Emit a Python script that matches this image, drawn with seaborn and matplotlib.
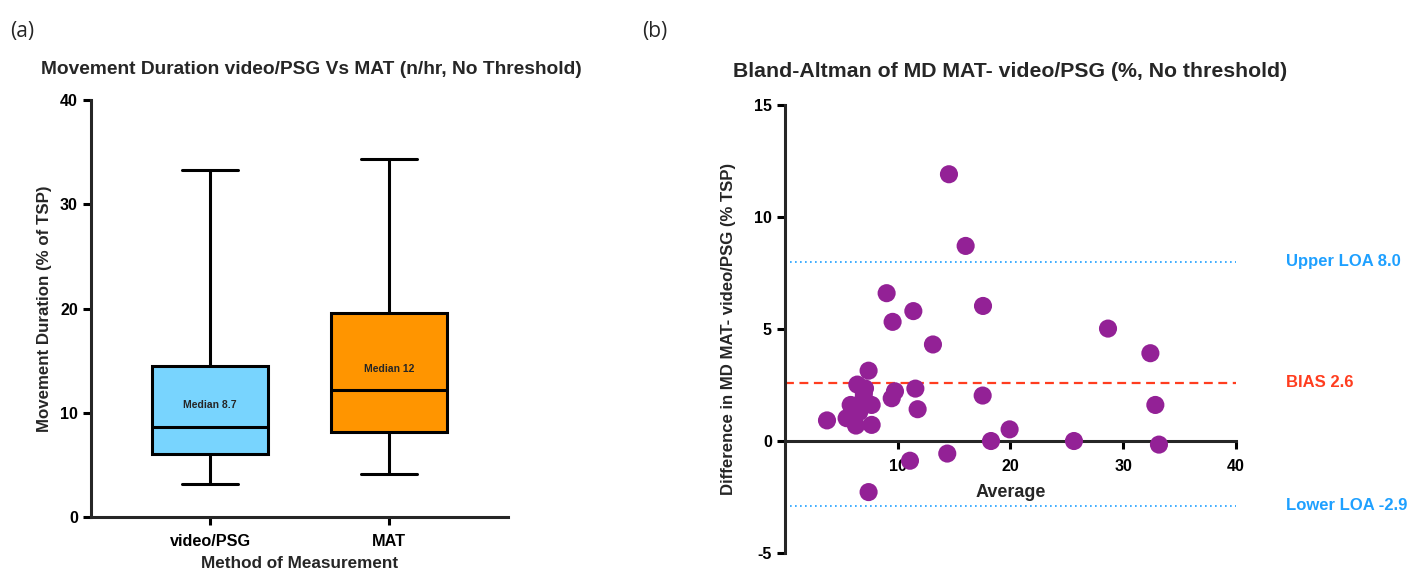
import numpy as np
import pandas as pd
import matplotlib
matplotlib.use("Agg")
import matplotlib.pyplot as plt
import seaborn as sns

# ---------------- data ----------------
categories = ["video/PSG", "MAT"]
# five-number summaries: min, Q1, median, Q3, max
video_psg_summary = [3.2, 6.0, 8.65, 14.5, 33.3]
mat_summary = [4.1, 8.15, 12.2, 19.6, 34.4]
median_labels = ["Median 8.7", "Median 12"]

avg_vals = [14.55, 16.03, 9.02, 11.39, 9.55, 17.57, 13.13, 28.66, 32.42, 7.42,
            6.42, 7.10, 9.76, 9.47, 11.57, 17.54, 32.86, 11.77, 5.83, 7.69,
            6.95, 3.73, 5.47, 6.30, 7.69, 19.93, 18.28, 25.64, 33.18, 14.40,
            11.09, 7.42, 7.00, 6.60]
diff_vals = [11.91, 8.71, 6.60, 5.80, 5.32, 6.03, 4.31, 5.02, 3.92, 3.14,
             2.52, 2.35, 2.22, 1.91, 2.34, 2.03, 1.61, 1.42, 1.61, 1.61,
             1.88, 0.92, 1.02, 0.69, 0.72, 0.52, 0.00, 0.00, -0.16, -0.56,
             -0.88, -2.28, 2.10, 1.30]
bias = 2.6
upper_loa = 8.0
lower_loa = -2.9

# ---------------- style ----------------
sns.set_style("ticks")
plt.rcParams['font.family'] = ['Liberation Sans', 'DejaVu Sans']
plt.rcParams['font.weight'] = 'bold'
plt.rcParams['axes.unicode_minus'] = False

fig = plt.figure(figsize=(14.09, 5.69), dpi=100)

# ---------------- panel (a) ----------------
axa = fig.add_axes([0.0646, 0.0914, 0.2959, 0.7326])
box_df = pd.DataFrame({
    "Method": [categories[0]] * 5 + [categories[1]] * 5,
    "Value": video_psg_summary + mat_summary,
})
sns.boxplot(data=box_df, x="Method", y="Value", order=categories, hue="Method",
            palette={categories[0]: "#78D4FE", categories[1]: "#FF9500"},
            saturation=1, whis=(0, 100), width=0.65, linewidth=2.2, linecolor="black",
            showfliers=False, legend=False, ax=axa,
            capprops=dict(linewidth=2.2), whiskerprops=dict(linewidth=2.2),
            medianprops=dict(linewidth=2.2, color="black"))
# adjust cap width
for line in axa.lines:
    xd = np.asarray(line.get_xdata(), dtype=float)
    yd = np.asarray(line.get_ydata(), dtype=float)
    if len(xd) == 2 and xd[0] != xd[1] and yd[0] == yd[1]:
        if abs(xd[1] - xd[0]) < 0.5:
            c = (xd[0] + xd[1]) / 2
            line.set_xdata([c - 0.155, c + 0.155])

axa.set_xlim(-0.665, 1.665)
axa.set_ylim(0, 40)
axa.set_yticks([0, 10, 20, 30, 40])
for i, (lab, summ) in enumerate(zip(median_labels, [video_psg_summary, mat_summary])):
    axa.text(i, summ[2] + 2.1 if i == 0 else summ[2] + 2.0, lab, ha="center", va="center",
             fontsize=7.5, fontweight="bold")
axa.set_xlabel("Method of Measurement", fontsize=12.3, fontweight="bold", labelpad=5)
axa.set_ylabel("Movement Duration (% of TSP)", fontsize=12.2, fontweight="bold", labelpad=6)
axa.set_title("Movement Duration video/PSG Vs MAT (n/hr, No Threshold)",
              fontsize=13.8, fontweight="bold", pad=18.5, x=0.528)
sns.despine(ax=axa)
for s in ["left", "bottom"]:
    axa.spines[s].set_linewidth(2.2)
axa.tick_params(width=2.2, length=6, labelsize=11.5, colors="black")
axa.tick_params(axis="x", labelsize=11.7, pad=6)
for t in axa.get_xticklabels() + axa.get_yticklabels():
    t.set_fontweight("bold")

# ---------------- panel (b) ----------------
axb = fig.add_axes([0.5571, 0.0281, 0.3200, 0.7873])
ba_df = pd.DataFrame({"Average": avg_vals, "Difference": diff_vals})
axb.axhline(upper_loa, color="#1EA0FF", linestyle=(0, (1, 2)), linewidth=1.2, zorder=1)
axb.axhline(lower_loa, color="#1EA0FF", linestyle=(0, (1, 2)), linewidth=1.2, zorder=1)
axb.axhline(bias, color="#FF3D1F", linestyle=(0, (4, 2.5)), linewidth=1.6, zorder=1)
sns.scatterplot(data=ba_df, x="Average", y="Difference", color="#932196",
                s=170, edgecolor="none", ax=axb, zorder=4, clip_on=False)
axb.set_xlim(0, 40)
axb.set_ylim(-5, 15)
axb.set_xticks([10, 20, 30, 40])
axb.set_yticks([-5, 0, 5, 10, 15])
sns.despine(ax=axb)
axb.spines["bottom"].set_position(("data", 0))
for s in ["left", "bottom"]:
    axb.spines[s].set_linewidth(2.2)
axb.tick_params(width=2.2, length=6, labelsize=11.5, colors="black")
axb.tick_params(axis="x", pad=7)
for t in axb.get_xticklabels() + axb.get_yticklabels():
    t.set_fontweight("bold")
axb.set_xlabel("Average", fontsize=13, fontweight="bold", labelpad=7.5)
axb.set_ylabel("Difference in MD MAT- video/PSG (% TSP)", fontsize=12.1,
               fontweight="bold", labelpad=13)
axb.set_title("Bland-Altman of MD MAT- video/PSG (%, No threshold)",
              fontsize=15.3, fontweight="bold", pad=20)
lab_kw = dict(transform=axb.get_yaxis_transform(), fontsize=12, fontweight="bold",
              va="center", ha="left")
axb.text(1.111, upper_loa, f"Upper LOA {upper_loa:.1f}", color="#1EA0FF", **lab_kw)
axb.text(1.111, bias, f"BIAS {bias:.1f}", color="#FF3D1F", **lab_kw)
axb.text(1.111, lower_loa, f"Lower LOA {lower_loa:.1f}", color="#1EA0FF", **lab_kw)

# panel letters
fig.text(0.007, 0.945, "(a)", fontsize=15, fontweight="normal", ha="left", va="center",
         family=["Open Sans", "DejaVu Sans"])
fig.text(0.456, 0.945, "(b)", fontsize=15, fontweight="normal", ha="left", va="center",
         family=["Open Sans", "DejaVu Sans"])

fig.savefig("out.png", dpi=100)
